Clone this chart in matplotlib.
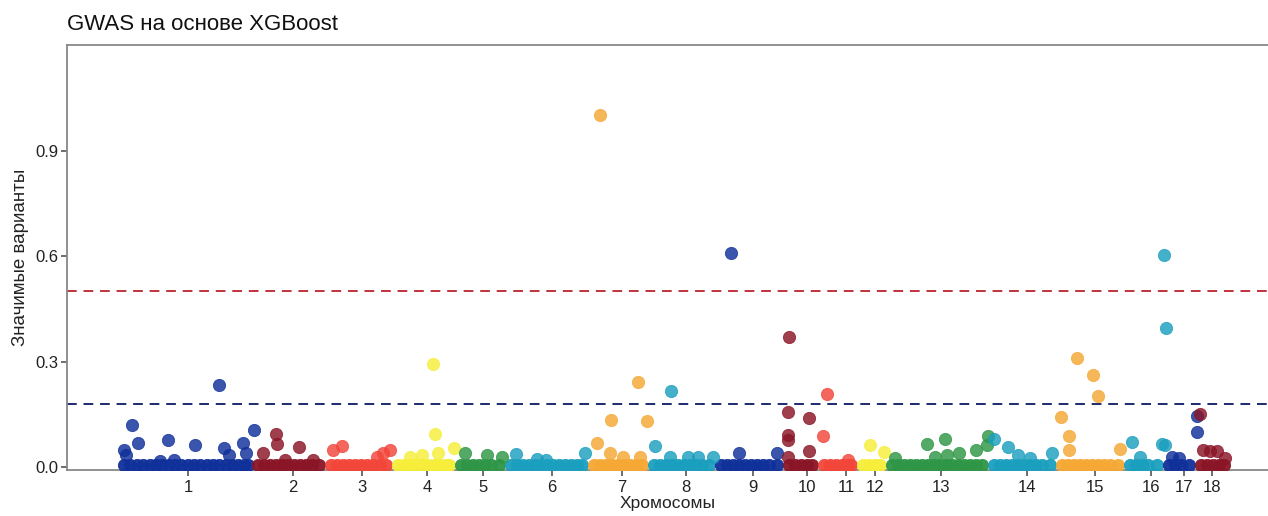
import matplotlib.pyplot as plt

plt.rcParams['font.family'] = ['Liberation Sans', 'DejaVu Sans']

# chromosome labels, tick positions (cumulative position units) and colours
chrom_labels = [str(i) for i in range(1, 19)]
chrom_ticks = [188, 293, 362, 427, 483, 552, 622, 686, 753, 807, 846, 875,
               941, 1027, 1095, 1151, 1184, 1212]
chrom_colors = ['#10309a', '#8a1526', '#f2463a', '#f6ee3a', '#2e9646', '#1b9fbe',
                '#f5a834', '#1b9fbe', '#10309a', '#8a1526', '#f2463a', '#f6ee3a',
                '#2e9646', '#1b9fbe', '#f5a834', '#1b9fbe', '#10309a', '#8a1526']

# dense near-zero band (positions per chromosome, score ~0.007)
baseline_level = 0.007
baseline_pos = [
    [124, 130, 137, 143, 150, 156, 162, 169, 175, 181, 188, 194, 200, 207, 213, 219, 226, 232, 238, 244, 248],
    [258, 264, 270, 276, 282, 288, 294, 300, 306, 312, 319],
    [331, 337, 343, 349, 355, 361, 367, 373, 380, 386],
    [398, 404, 410, 416, 422, 428, 434, 440, 446, 449],
    [461, 467, 473, 479, 485, 491, 499],
    [511, 517, 523, 529, 535, 541, 547, 553, 559, 565, 571, 577, 582],
    [594, 600, 606, 612, 618, 624, 630, 636, 642],
    [654, 660, 666, 672, 678, 684, 690, 696, 702, 709],
    [721, 727, 733, 739, 745, 751, 757, 763, 769, 777],
    [789, 795, 801, 807, 812],
    [824, 830, 836, 842, 848, 851],
    [863, 869, 875, 880],
    [892, 898, 904, 910, 916, 922, 928, 934, 940, 946, 952, 958, 964, 970, 976, 982],
    [994, 1000, 1006, 1012, 1018, 1024, 1030, 1036, 1042, 1050],
    [1062, 1068, 1074, 1080, 1086, 1092, 1098, 1104, 1110, 1118],
    [1130, 1136, 1142, 1148, 1157],
    [1169, 1175, 1181, 1189],
    [1201, 1207, 1213, 1219, 1224],
]

# individual variants above the band
snp_pos = [
    [124, 126, 132, 138, 160, 168, 174, 195, 219, 224, 229, 243, 246, 254],
    [263, 276, 277, 285, 299, 313],
    [333, 342, 377, 383, 390],
    [410, 422, 433, 435, 438, 454],
    [465, 487, 502],
    [516, 537, 546, 585],
    [597, 600, 610, 611, 623, 638, 640, 647],
    [655, 670, 671, 688, 698, 713],
    [731, 739, 777],
    [788, 788, 788, 789, 788, 809, 809],
    [823, 827, 848],
    [870, 884],
    [895, 927, 935, 945, 947, 959, 976, 987, 988],
    [994, 1008, 1018, 1030, 1052],
    [1061, 1069, 1069, 1077, 1093, 1098, 1120],
    [1132, 1140, 1162, 1165, 1164, 1166],
    [1172, 1179, 1197, 1197],
    [1200, 1203, 1210, 1217, 1225],
]
snp_score = [
    [0.05, 0.035, 0.12, 0.07, 0.017, 0.077, 0.02, 0.063, 0.235, 0.055, 0.035, 0.068, 0.04, 0.105],
    [0.04, 0.095, 0.066, 0.02, 0.058, 0.02],
    [0.05, 0.06, 0.03, 0.04, 0.05],
    [0.03, 0.035, 0.294, 0.095, 0.04, 0.055],
    [0.04, 0.035, 0.03],
    [0.037, 0.022, 0.02, 0.04],
    [0.068, 1.0, 0.04, 0.134, 0.03, 0.243, 0.03, 0.131],
    [0.06, 0.03, 0.217, 0.03, 0.03, 0.03],
    [0.609, 0.04, 0.04],
    [0.157, 0.091, 0.077, 0.371, 0.03, 0.14, 0.045],
    [0.09, 0.208, 0.02],
    [0.063, 0.043],
    [0.025, 0.065, 0.03, 0.08, 0.034, 0.04, 0.05, 0.063, 0.09],
    [0.08, 0.057, 0.034, 0.025, 0.04],
    [0.142, 0.088, 0.048, 0.311, 0.263, 0.203, 0.051],
    [0.071, 0.03, 0.065, 0.063, 0.604, 0.396],
    [0.028, 0.025, 0.145, 0.1],
    [0.15, 0.05, 0.045, 0.045, 0.025],
]

suggestive_line = 0.18
significant_line = 0.5

fig = plt.figure(figsize=(12.68, 5.16), dpi=100)
ax = fig.add_axes([67 / 1268, 1 - 470 / 516, 1 - 67 / 1268, (470 - 45) / 516])

for i in range(len(chrom_labels)):
    col = chrom_colors[i]
    ax.scatter(baseline_pos[i], [baseline_level] * len(baseline_pos[i]), s=78,
               color=col, edgecolors=col, linewidths=0.6, alpha=0.95, zorder=3)
    ax.scatter(snp_pos[i], snp_score[i], s=78, color=col, edgecolors=col,
               linewidths=0.6, alpha=0.82, zorder=4)

ax.axhline(significant_line, color='#c0333c', linestyle=(0, (5, 3.5)), linewidth=1.4, zorder=2)
ax.axhline(suggestive_line, color='#1d2a6e', linestyle=(0, (5, 3.5)), linewidth=1.4, zorder=2)

ax.set_xlim(67, 1268)
ax.set_ylim(-0.008, 1.2)
ax.set_yticks([0.0, 0.3, 0.6, 0.9])
ax.set_yticklabels(['0.0', '0.3', '0.6', '0.9'])
ax.set_xticks(chrom_ticks)
ax.set_xticklabels(chrom_labels)
ax.tick_params(axis='both', length=4, width=1.2, color='#555555', labelcolor='#222222')
ax.tick_params(axis='y', labelsize=12, pad=2)
ax.tick_params(axis='x', labelsize=12, pad=3)

for side in ['left', 'bottom', 'top']:
    ax.spines[side].set_color('#888888')
    ax.spines[side].set_linewidth(1.3)
ax.spines['right'].set_visible(False)

ax.set_ylabel('Значимые варианты', fontsize=13.5, color='#222222', labelpad=5)
ax.set_xlabel('Хромосомы', fontsize=12.5, color='#222222', labelpad=1)
fig.text(67 / 1268, 1 - 24 / 516, 'GWAS на основе XGBoost', fontsize=16, color='#111111',
         ha='left', va='center')

fig.savefig('out.png', dpi=100)
